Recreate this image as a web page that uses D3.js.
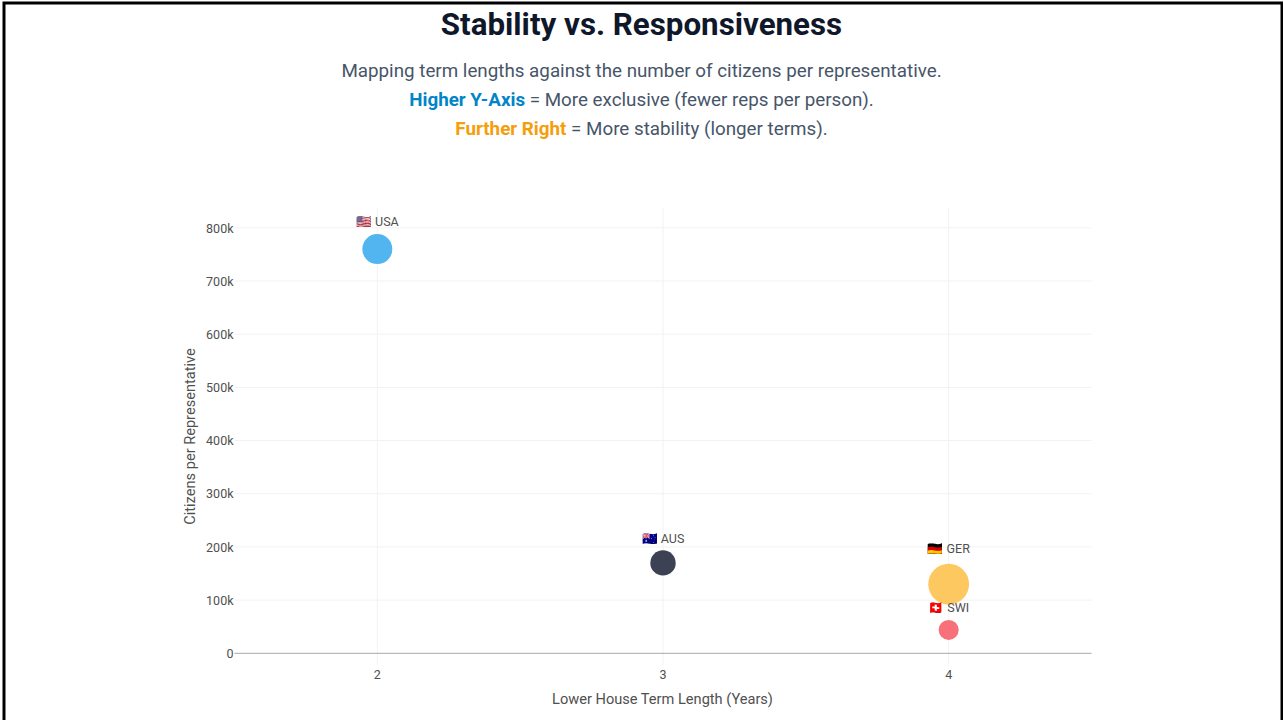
<!DOCTYPE html>
<html><head><meta charset="utf-8">
<script src="https://cdnjs.cloudflare.com/ajax/libs/d3/7.8.5/d3.min.js"></script>
<style>
html,body{margin:0;padding:0;background:#fff;overflow:hidden}
svg{display:block;font-family:Roboto,sans-serif}
</style></head><body><svg id="c" width="1283" height="720"></svg>
<script>
const countries=["USA","AUS","GER","SWI"];
const flags=["🇺🇸","🇦🇺","🇩🇪","🇨🇭"];
const termYears=[2,3,4,4];
const citizensPerRep=[760000,170000,130000,44000];
const bubbleSizes=[15,12.7,20.4,10];
const fills=["#53b5f0","#3c4254","#fec860","#f7707a"];
const xTicks=[2,3,4];
const yTicks=[0,100000,200000,300000,400000,500000,600000,700000,800000];
const subtitle="Mapping term lengths against the number of citizens per representative.";

const svg=d3.select("#c");
svg.append("rect").attr("x",4).attr("y",3).attr("width",1278).attr("height",730).attr("fill","#fff").attr("stroke","#000").attr("stroke-width",3);
const x=d3.scaleLinear().domain([1.5,4.5]).range([234.5,1091.5]);
const y=d3.scaleLinear().domain([0,800000]).range([653.3,227.8]);
const fmt=v=>v===0?"0":(v/1000)+"k";

const cx=641.5;
svg.append("text").attr("x",cx).attr("y",35).attr("text-anchor","middle").attr("font-size",31.3).attr("font-weight",700).attr("fill","#0f172a").text("Stability vs. Responsiveness");
svg.append("text").attr("x",cx).attr("y",77).attr("text-anchor","middle").attr("font-size",18.8).attr("fill","#475569").text(subtitle);
const l2=svg.append("text").attr("x",cx).attr("y",106).attr("text-anchor","middle").attr("font-size",18.8).attr("fill","#475569");
l2.append("tspan").attr("font-weight",700).attr("fill","#0284c7").text("Higher Y-Axis");
l2.append("tspan").text(" = More exclusive (fewer reps per person).");
const l3=svg.append("text").attr("x",cx).attr("y",135).attr("text-anchor","middle").attr("font-size",18.8).attr("fill","#475569");
l3.append("tspan").attr("font-weight",700).attr("fill","#f59e0b").text("Further Right");
l3.append("tspan").text(" = More stability (longer terms).");

const gx=svg.append("g").attr("transform","translate(0,653.3)").call(d3.axisBottom(x).tickValues(xTicks).tickFormat(d3.format("d")).tickSize(0).offset(0));
gx.select(".domain").remove();
gx.selectAll("line").attr("y1",y(800000)-653.3-20).attr("y2",12).attr("stroke","#f2f2f2");
gx.selectAll("text").attr("y",17).attr("font-size",12.5).attr("font-family","Roboto").attr("fill","#505050");
const gy=svg.append("g").attr("transform","translate(234.5,0)").call(d3.axisLeft(y).tickValues(yTicks).tickFormat(fmt).tickSize(0).tickPadding(0).offset(0));
gy.select(".domain").remove();
gy.selectAll("line").attr("x1",0).attr("x2",857).attr("stroke",(d)=>d===0?"#a8a8a8":"#f2f2f2").attr("stroke-width",1);
gy.selectAll("text").attr("x",-1).attr("y",0.7).attr("font-size",12.5).attr("font-family","Roboto").attr("fill","#505050");

svg.append("text").attr("x",662.5).attr("y",704).attr("text-anchor","middle").attr("font-size",14.6).attr("fill","#505050").text("Lower House Term Length (Years)");
svg.append("text").attr("transform","translate(195,436.5) rotate(-90)").attr("text-anchor","middle").attr("font-size",14.6).attr("fill","#505050").text("Citizens per Representative");

const data=countries.map((c,i)=>({c,f:flags[i],t:termYears[i],v:citizensPerRep[i],r:bubbleSizes[i],col:fills[i]}));
const g=svg.append("g");
g.selectAll("circle").data(data).join("circle").attr("cx",d=>x(d.t)).attr("cy",d=>y(d.v)).attr("r",d=>d.r).attr("fill",d=>d.col);
g.selectAll("text").data(data).join("text").attr("x",d=>x(d.t)).attr("y",d=>y(d.v)-d.r-(d.c==="GER"?10.3:d.c==="USA"?8:7.5)).attr("text-anchor","middle").attr("font-size",12.5).attr("fill","#505050").text(d=>d.f+" "+d.c);
</script></body></html>
